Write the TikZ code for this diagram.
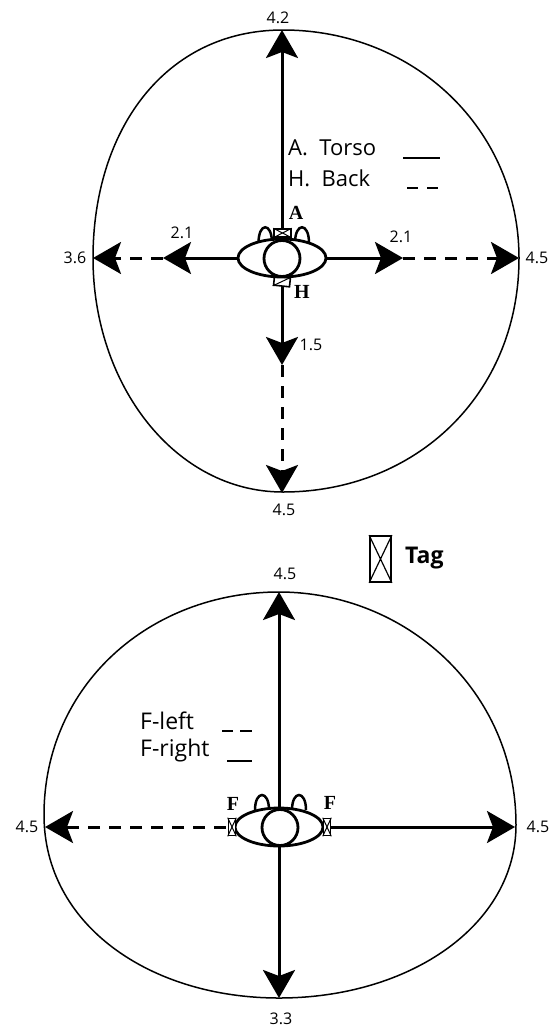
\documentclass[tikz,border=0pt]{standalone}
\usepackage{fontspec}
\setmainfont{Open Sans}
\newfontfamily\lblserif{Liberation Serif}
\usetikzlibrary{arrows.meta,shapes.geometric}
\tikzset{
  blob/.style={draw=black,line width=1.5pt},
  axis/.style={draw=black,line width=3pt,-{Stealth[length=28pt,width=32pt,inset=6pt]}},
  axisdash/.style={axis,dash pattern=on 12pt off 9pt},
  val/.style={font=\fontsize{16}{18}\selectfont,inner sep=0pt,text=black},
  legend/.style={font=\fontsize{22}{25}\selectfont,inner sep=0pt,anchor=west,text=black},
  tagl/.style={font=\lblserif\bfseries\fontsize{20}{22}\selectfont,inner sep=0pt,text=black},
  body/.style={draw=black,line width=2.8pt,fill=white},
  ear/.style={draw=black,line width=2.5pt},
  tagbox/.style={draw=black,line width=1.6pt,fill=white},
  keyline/.style={draw=black,line width=1.2pt}
}
\begin{document}
\begin{tikzpicture}[x=1pt,y=-1pt]
\useasboundingbox (0,0) rectangle (557,1028);
% upper outline
\draw[blob] (283,30) .. controls (415,30) and (519,130) .. (519,258)
  .. controls (519,395) and (415,492) .. (283,492)
  .. controls (175,492) and (93,385) .. (93,258)
  .. controls (93,130) and (165,30) .. (283,30) -- cycle;
% upper axes
\coordinate (uc) at (282,258);
\coordinate (ut) at (282,30);
\coordinate (ul) at (93,258);
\coordinate (ulm) at (163,258);
\coordinate (ur) at (519,258);
\coordinate (urm) at (403,258);
\coordinate (ub) at (282,493);
\coordinate (ubm) at (282,365);
\draw[axisdash] (ulm) -- (ul);
\draw[axis] (uc) -- (ulm);
\draw[axisdash] (urm) -- (ur);
\draw[axis] (uc) -- (urm);
\draw[axisdash] (ubm) -- (ub);
\draw[axis] (uc) -- (ubm);
\draw[axis] (uc) -- (ut);
% upper figure
\draw[ear] (258.5,243) .. controls (258.5,222) and (272,222) .. (272,243);
\draw[ear] (295,243) .. controls (295,222) and (309,222) .. (309,243);
\node[tagbox,minimum width=17pt,minimum height=8pt,inner sep=0pt] (ua) at (282.5,233) {};
\draw[line width=1pt] (ua.north west) -- (ua.south east) (ua.north east) -- (ua.south west);
\node[tagbox,minimum width=16pt,minimum height=9pt,inner sep=0pt,rotate=-6] (uh) at (282,281.5) {};
\draw[line width=1pt] (uh.south west) -- (uh.north east);
\node[body,ellipse,minimum width=88pt,minimum height=38pt,inner sep=0pt] (ubody) at (282,258) {};
\node[body,circle,minimum size=36pt,inner sep=0pt] (uhead) at (282,258.5) {};
\node[tagl] (lA) at (296,212.5) {A};
\node[tagl] (lH) at (302,291.5) {H};
% upper labels
\node[val] (v1) at (278,18) {4.2};
\node[val] (v2) at (75,258) {3.6};
\node[val] (v3) at (537,258) {4.5};
\node[val] (v4) at (284,510) {4.5};
\node[val] (v5) at (182,233) {2.1};
\node[val] (v6) at (401,237) {2.1};
\node[val] (v7) at (311,345) {1.5};
\node[legend] (la) at (288,148) {A.\ \ Torso};
\node[legend] (lb) at (288,178) {H.\ \ Back};
\coordinate (k1a) at (403,158); \coordinate (k1b) at (440,158);
\draw[keyline] (k1a) -- (k1b);
\coordinate (k2a) at (407,188); \coordinate (k2b) at (418,188);
\coordinate (k2c) at (427,188); \coordinate (k2d) at (438,188);
\draw[keyline] (k2a) -- (k2b);
\draw[keyline] (k2c) -- (k2d);
% tag key
\node[draw=black,line width=1.8pt,minimum width=21pt,minimum height=46pt,inner sep=0pt] (tk) at (380.5,559) {};
\draw[line width=1.2pt] (tk.north west) -- (tk.south east) (tk.north east) -- (tk.south west);
\node[font=\bfseries\fontsize{23}{25}\selectfont,inner sep=0pt,anchor=west] (tkl) at (405,558) {Tag};
% lower outline
\draw[blob] (279,592) .. controls (405,592) and (516,690) .. (516,825)
  .. controls (516,925) and (410,998) .. (279,998)
  .. controls (150,998) and (44,925) .. (44,815)
  .. controls (44,685) and (150,592) .. (279,592) -- cycle;
% lower axes
\coordinate (lc) at (279,827);
\coordinate (lt) at (279,592);
\coordinate (lb2) at (279,998);
\coordinate (ll) at (45,827);
\coordinate (lr) at (515,827);
\coordinate (lls) at (226,827);
\draw[axis] (lc) -- (lt);
\draw[axis] (lc) -- (lb2);
\draw[axis] (lc) -- (lr);
\draw[axisdash] (lls) -- (ll);
% lower figure
\draw[ear] (255,810) .. controls (255,790) and (269,790) .. (269,810);
\draw[ear] (292,810) .. controls (292,790) and (306,790) .. (306,810);
\node[body,ellipse,minimum width=88pt,minimum height=38pt,inner sep=0pt] (lbody) at (279,827) {};
\node[body,circle,minimum size=36pt,inner sep=0pt] (lhead) at (280,827.5) {};
\node[tagbox,minimum width=7pt,minimum height=17pt,inner sep=0pt] (lf1) at (232,827) {};
\draw[line width=1pt] (lf1.north west) -- (lf1.south east) (lf1.north east) -- (lf1.south west);
\node[tagbox,minimum width=7pt,minimum height=17pt,inner sep=0pt] (lf2) at (327,827) {};
\draw[line width=1pt] (lf2.north west) -- (lf2.south east) (lf2.north east) -- (lf2.south west);
\node[tagl] (lF1) at (233,804) {F};
\node[tagl] (lF2) at (330,803) {F};
% lower labels
\node[val] (w1) at (285,574) {4.5};
\node[val] (w2) at (27,827) {4.5};
\node[val] (w3) at (538,827) {4.5};
\node[val] (w4) at (281,1019) {3.3};
\node[legend,font=\fontsize{23}{25}\selectfont] (lc1) at (140,721) {F-left};
\node[legend,font=\fontsize{23}{25}\selectfont] (lc2) at (140,751) {F-right};
\coordinate (k3a) at (222,731); \coordinate (k3b) at (233,731);
\coordinate (k3c) at (240,731); \coordinate (k3d) at (252,731);
\draw[keyline] (k3a) -- (k3b);
\draw[keyline] (k3c) -- (k3d);
\coordinate (k4a) at (227,761); \coordinate (k4b) at (252,761);
\draw[keyline] (k4a) -- (k4b);
\end{tikzpicture}
\end{document}
